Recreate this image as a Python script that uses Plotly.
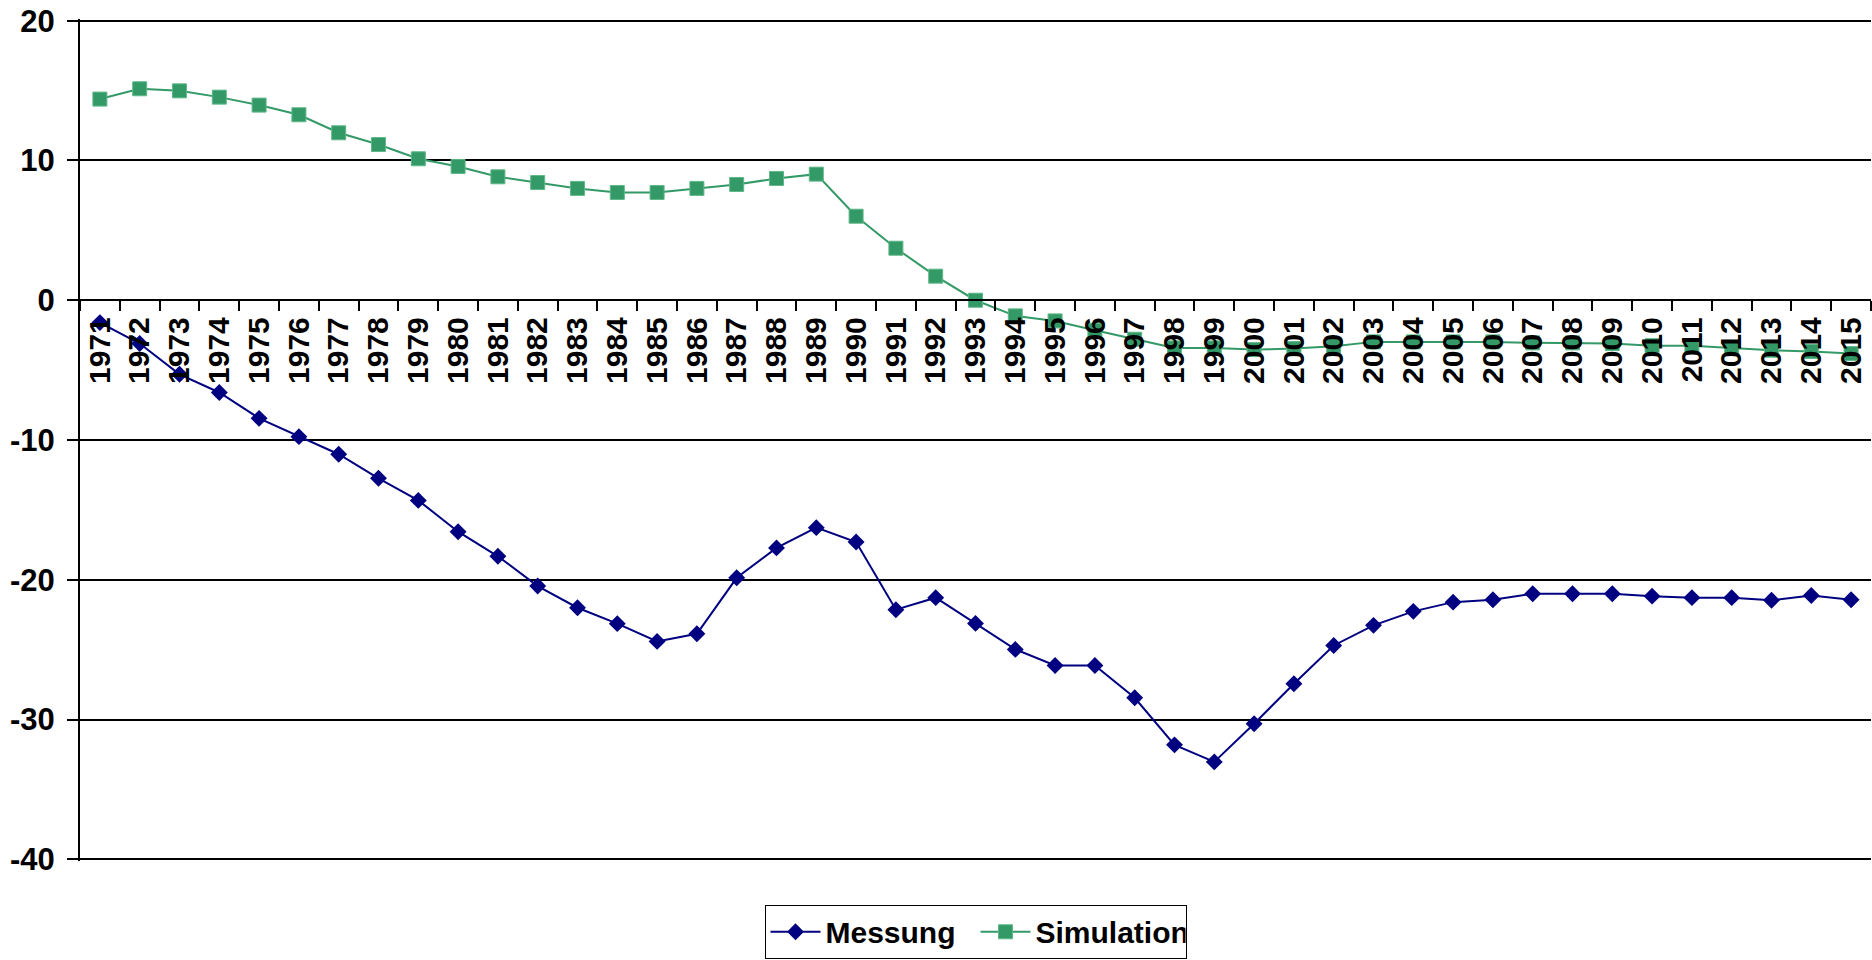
import plotly.graph_objects as go

years = [str(y) for y in range(1971, 2016)]

messung = [
    -1.6, -3.1, -5.3, -6.6, -8.45, -9.76, -11.02, -12.74, -14.32, -16.56,
    -18.32, -20.45, -22.0, -23.14, -24.41, -23.86, -19.86, -17.72, -16.27, -17.3,
    -22.14, -21.28, -23.12, -24.98, -26.13, -26.13, -28.44, -31.81, -33.03, -30.3,
    -27.44, -24.7, -23.26, -22.26, -21.6, -21.43, -21.0, -21.0, -21.0, -21.17,
    -21.28, -21.28, -21.47, -21.12, -21.43,
]

simulation = [
    14.39, 15.13, 14.98, 14.53, 13.96, 13.27, 11.98, 11.14, 10.12, 9.57,
    8.83, 8.42, 8.0, 7.71, 7.71, 8.0, 8.28, 8.71, 9.02, 6.01,
    3.72, 1.72, 0.0, -1.12, -1.48, -2.15, -2.79, -3.41, -3.41, -3.53,
    -3.46, -3.29, -2.98, -2.98, -2.98, -2.98, -3.05, -3.05, -3.1, -3.25,
    -3.25, -3.41, -3.58, -3.67, -3.82,
]

y_tick_vals = [-40, -30, -20, -10, 0, 10, 20]
y_tick_text = ["-40", "-30", "-20", "-10", "0", "10", "20"]
y_min, y_max = -40, 20
pad = 0.12  # tiny range padding so the edge gridlines at -40 and 20 are drawn

FONT = "Liberation Sans, Arial, sans-serif"

fig = go.Figure()
fig.add_trace(go.Scatter(
    x=years, y=messung, name="Messung", mode="lines+markers",
    line=dict(color="#000080", width=2),
    marker=dict(symbol="diamond", size=13, color="#000080"),
))
fig.add_trace(go.Scatter(
    x=years, y=simulation, name="Simulation", mode="lines+markers",
    line=dict(color="#339966", width=2),
    marker=dict(symbol="square", size=14, color="#339966",
                line=dict(color="#5fb888", width=1)),
))

lo, hi = y_min - pad, y_max + pad
zero_pos = (0 - lo) / (hi - lo)

fig.update_layout(
    width=1872, height=960,
    margin=dict(l=80, r=1, t=19, b=99, autoexpand=False),
    paper_bgcolor="white", plot_bgcolor="white",
    font=dict(family=FONT, size=30, color="black", weight="bold"),
    showlegend=True,
    legend=dict(
        orientation="h", x=0.5, xanchor="center", y=-0.052, yanchor="top",
        bordercolor="black", borderwidth=1,
        font=dict(family=FONT, size=30, color="black", weight="bold"),
        entrywidth=145, entrywidthmode="pixels",
        itemwidth=50, tracegroupgap=0,
    ),
    xaxis=dict(
        type="category",
        anchor="free", position=zero_pos,
        showgrid=False, zeroline=False,
        showline=True, linecolor="black", linewidth=2,
        ticks="outside", ticklen=10, tickwidth=2, tickcolor="black",
        tickson="boundaries",
        tickangle=-90,
        tickfont=dict(family=FONT, size=30, color="black", weight="bold"),
        ticklabelstandoff=4,
        range=[-0.5, len(years) - 0.5],
    ),
    yaxis=dict(
        range=[lo, hi],
        tickvals=y_tick_vals, ticktext=y_tick_text,
        showgrid=True, gridcolor="black", gridwidth=2,
        zeroline=True, zerolinecolor="black", zerolinewidth=2,
        showline=True, linecolor="black", linewidth=2,
        ticks="outside", ticklen=11, tickwidth=2, tickcolor="black",
        tickfont=dict(family=FONT, size=31, color="black", weight="bold"),
        ticklabelstandoff=6,
    ),
)

fig.write_html(
    "out.html",
    config={"displayModeBar": False},
    post_script="document.body.style.margin='0';",
)
